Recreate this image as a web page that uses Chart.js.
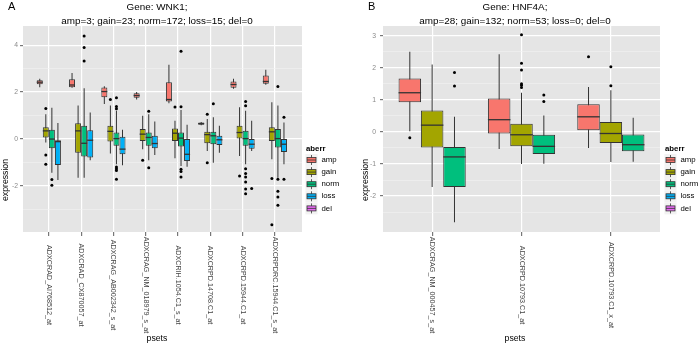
<!DOCTYPE html>
<html>
<head>
<meta charset="utf-8">
<script src="https://cdn.jsdelivr.net/npm/chart.js@4.4.1/dist/chart.umd.min.js"></script>
<style>
  html, body { margin: 0; padding: 0; background: #fff; }
  #wrap { position: relative; width: 700px; height: 347px; }
  canvas { position: absolute; top: 0; }
</style>
</head>
<body>
<div id="wrap">
  <canvas id="chartA" width="350" height="347" style="left:0"></canvas>
  <canvas id="chartB" width="350" height="347" style="left:350px"></canvas>
</div>
<script>
// aberration groups, ggplot default hues
const groups = ['amp', 'gain', 'norm', 'loss', 'del'];
const groupColors = ['#F8766D', '#A3A500', '#00BF7D', '#00B0F6', '#E76BF3'];

// Panel A: WNK1. Each row = one probe set: [lower whisker, q1, median, q3, upper whisker]
const probesA = ['ADXCRAD_AI768512_at', 'ADXCRAD_CX870057_at', 'ADXCRAG_AB002342_s_at', 'ADXCRAG_NM_018979_s_at',
                 'ADXCRIH.1054.C1_s_at', 'ADXCRPD.14708.C1_at', 'ADXCRPD.15944.C1_at', 'ADXCRPDRC.15944.C1_s_at'];
const ampA = [[2.2, 2.33, 2.42, 2.5, 2.57], [2.18, 2.2, 2.3, 2.55, 2.81], [1.49, 1.78, 2.02, 2.19, 2.25], [1.68, 1.75, 1.85, 1.95, 2.0],
              [1.52, 1.59, 1.68, 2.42, 3.17], [0.58, 0.6, 0.65, 0.7, 0.72], [2.14, 2.18, 2.32, 2.45, 2.57], [2.31, 2.35, 2.45, 2.71, 2.95]];
const gainA = [[-0.16, 0.06, 0.34, 0.49, 1.05], [-1.66, -0.59, 0.34, 0.67, 1.42], [-0.63, -0.11, 0.32, 0.56, 1.42], [-0.44, -0.09, 0.2, 0.42, 0.99],
               [-0.83, -0.09, 0.24, 0.44, 0.77], [-0.52, -0.19, 0.18, 0.3, 0.85], [-0.73, 0.01, 0.27, 0.56, 1.35], [-0.87, -0.09, 0.3, 0.49, 1.56]];
const normA = [[-1.45, -0.4, -0.01, 0.39, 1.33], [-1.66, -0.76, -0.19, 0.56, 2.16], [-1.09, -0.3, 0.01, 0.27, 1.2], [-0.92, -0.3, 0.06, 0.27, 1.05],
               [-1.16, -0.33, 0.03, 0.27, 1.23], [-1.02, -0.23, 0.13, 0.3, 0.92], [-1.09, -0.3, 0.01, 0.34, 1.2], [-1.66, -0.37, 0.01, 0.42, 1.42]];
const lossA = [[-1.76, -1.12, -0.12, -0.06, 0.68], [-0.92, -0.8, -0.06, 0.37, 1.12], [-1.13, -0.66, -0.44, 0.09, 0.39], [-0.69, -0.4, -0.2, 0.13, 0.74],
               [-1.19, -0.95, -0.66, -0.01, 0.6], [-0.59, -0.26, -0.04, 0.13, 0.56], [-0.52, -0.42, -0.23, -0.01, 0.77], [-1.09, -0.56, -0.23, -0.01, 0.7]];
// outliers per probe set
const gainOutA = [[1.3, -0.69, -1.09], [], [1.68], [-0.92], [1.36], [1.05, -1.02], [-1.59], [-1.69, -3.67]];
const normOutA = [[-1.74, -1.98], [4.39, 3.9, 3.33], [1.75, 1.38, 1.28, -1.2, -1.28, -1.35, -1.73], [1.18, -1.23],
                  [3.74, 1.37, -1.3, -1.4, -1.63], [1.5], [1.59, 1.41, -1.28, -1.48, -1.63, -1.84, -2.14, -2.35], [2.24, -1.73, -2.24, -2.49, -2.84]];
const lossOutA = [[], [], [], [], [], [], [-2.12], [0.92, -1.73]];
const yMajorA = [-2, 0, 2, 4];
const yMinorA = [-3, -1, 1, 3];

// Panel B: HNF4A
const probesB = ['ADXCRAG_NM_000457_s_at', 'ADXCRPD.10793.C1_at', 'ADXCRPD.10793.C1_x_at'];
const ampB = [[0.0, 0.92, 1.22, 1.66, 2.5], [-0.53, -0.05, 0.38, 1.04, 2.42], [-0.5, 0.05, 0.47, 0.86, 1.4]];
const gainB = [[-1.72, -0.49, 0.21, 0.67, 2.1], [-1.0, -0.45, -0.09, 0.25, 1.22], [-0.94, -0.35, -0.05, 0.31, 1.3]];
const normB = [[-2.82, -1.72, -0.78, -0.47, 0.47], [-0.99, -0.69, -0.45, -0.09, 0.51], [-0.93, -0.6, -0.4, -0.08, 0.44]];
const ampOutB = [[-0.18], [], [2.34]];
const gainOutB = [[], [3.03, 2.14, 1.93, 1.5, 1.45, 1.38], [2.03, 1.44]];
const normOutB = [[1.85, 1.43], [1.15, 0.95], []];
const yMajorB = [-2, -1, 0, 1, 2, 3];
const yMinorB = [-2.5, -1.5, -0.5, 0.5, 1.5, 2.5];

const FONT = '"Liberation Sans", Arial, sans-serif';
const EDGE = '#333333';

function buildDatasets(stats, outs, offsets, boxWidth) {
  const sets = [];
  stats.forEach((rows, g) => {
    if (!rows) return;
    const pts = rows.map((r, i) => ({ x: i + offsets[g], r }));
    // whiskers
    sets.push({ type: 'bar', order: 3, grouped: false, barThickness: 1, inflateAmount: 0,
      data: pts.map(p => ({ x: p.x, y: [p.r[0], p.r[4]] })), backgroundColor: EDGE, borderWidth: 0 });
    // boxes
    sets.push({ type: 'bar', order: 2, grouped: false, barThickness: boxWidth, inflateAmount: 0,
      data: pts.map(p => ({ x: p.x, y: [p.r[1], p.r[3]] })), backgroundColor: groupColors[g],
      borderColor: EDGE, borderWidth: 1, borderSkipped: false });
    // medians
    sets.push({ type: 'scatter', order: 1, data: pts.map(p => ({ x: p.x, y: p.r[2] })),
      pointStyle: 'line', pointRadius: boxWidth / 2, pointBorderColor: EDGE, pointBorderWidth: 1.3 });
    const o = [];
    (outs[g] || []).forEach((vals, i) => vals.forEach(v => o.push({ x: i + offsets[g], y: v })));
    if (o.length) {
      sets.push({ type: 'scatter', order: 0, data: o, pointRadius: 1.5,
        pointBackgroundColor: '#000', pointBorderWidth: 0 });
    }
  });
  return sets;
}

function panelPlugin(p) {
  return {
    id: 'panel' + p.letter,
    beforeDraw(chart) {
      const { ctx, chartArea: a } = chart;
      ctx.save();
      ctx.fillStyle = '#E5E5E5';
      ctx.fillRect(a.left, a.top, a.right - a.left, a.bottom - a.top);
      ctx.restore();
    },
    afterDraw(chart) {
      const ctx = chart.ctx;
      const xs = chart.scales.x;
      ctx.save();
      ctx.fillStyle = '#000';
      ctx.textBaseline = 'middle';
      // panel letter
      ctx.font = '11px ' + FONT;
      ctx.textAlign = 'left';
      ctx.fillText(p.letter, p.letterX, 7);
      // title
      ctx.font = '9.9px ' + FONT;
      ctx.textAlign = 'center';
      ctx.fillText(p.title[0], p.titleX, 7);
      ctx.fillText(p.title[1], p.titleX, 21);
      // axis titles
      ctx.font = '8.7px ' + FONT;
      ctx.fillText('psets', p.titleX, 339);
      ctx.save();
      ctx.translate(p.yTitleX, 180);
      ctx.rotate(-Math.PI / 2);
      ctx.fillText('expression', 0, 0);
      ctx.restore();
      // probe set labels, reading downward
      ctx.font = '7.2px ' + FONT;
      ctx.fillStyle = '#444';
      p.probes.forEach((name, i) => {
        ctx.save();
        ctx.translate(xs.getPixelForValue(i), 285);
        ctx.rotate(Math.PI / 2);
        ctx.fillText(name, 0, 0);
        ctx.restore();
      });
      // legend
      ctx.fillStyle = '#000';
      ctx.textAlign = 'left';
      ctx.font = 'bold 7.8px ' + FONT;
      ctx.fillText('aberr', p.legX, 149);
      ctx.font = '7.8px ' + FONT;
      groups.forEach((gname, k) => {
        const cy = 160 + k * 12.1, cx = p.legX + 5.5;
        ctx.fillStyle = '#F2F2F2';
        ctx.fillRect(cx - 6, cy - 6, 12, 12);
        ctx.strokeStyle = EDGE;
        ctx.lineWidth = 0.8;
        ctx.beginPath();
        ctx.moveTo(cx, cy - 5);
        ctx.lineTo(cx, cy + 5);
        ctx.stroke();
        ctx.fillStyle = groupColors[k];
        ctx.fillRect(cx - 4.5, cy - 2.5, 9, 5);
        ctx.strokeRect(cx - 4.5, cy - 2.5, 9, 5);
        ctx.beginPath();
        ctx.moveTo(cx - 4.5, cy);
        ctx.lineTo(cx + 4.5, cy);
        ctx.stroke();
        ctx.fillStyle = '#000';
        ctx.fillText(gname, p.legX + 15.5, cy);
      });
      ctx.restore();
    }
  };
}

function makeChart(id, p) {
  const isMajor = v => p.yMajor.includes(v);
  return new Chart(document.getElementById(id), {
    type: 'bar',
    data: { datasets: buildDatasets(p.stats, p.outs, p.offsets, p.boxWidth) },
    options: {
      responsive: false,
      animation: false,
      events: [],
      layout: { padding: { left: 0, top: 26, right: p.right, bottom: 0 } },
      plugins: { legend: { display: false }, tooltip: { enabled: false } },
      scales: {
        x: {
          type: 'linear', min: p.xMin, max: p.xMax, offset: false,
          afterBuildTicks: s => { s.ticks = p.probes.map((_, i) => ({ value: i })); },
          afterFit: s => { s.height = 115; },
          ticks: { display: false, autoSkip: false },
          grid: { offset: false, color: '#fff', lineWidth: 1.2, tickLength: 4, tickColor: '#777' },
          border: { display: false }
        },
        y: {
          type: 'linear', min: p.yMin, max: p.yMax,
          afterBuildTicks: s => {
            s.ticks = p.yMajor.concat(p.yMinor).sort((a, b) => a - b).map(v => ({ value: v }));
          },
          afterFit: s => { s.width = p.yWidth; },
          ticks: {
            autoSkip: false, color: '#8a8a8a', padding: p.yPad,
            font: { size: 6.8, family: FONT },
            callback: v => isMajor(v) ? String(v) : ''
          },
          grid: {
            color: c => isMajor(c.tick.value) ? '#fff' : '#F2F2F2',
            lineWidth: c => isMajor(c.tick.value) ? 1.2 : 0.6,
            tickColor: c => isMajor(c.tick.value) ? '#777' : 'rgba(0,0,0,0)',
            tickLength: 3
          },
          border: { display: false }
        }
      }
    },
    plugins: [panelPlugin(p)]
  });
}

const offA = [-0.28125, -0.09375, 0.09375, 0.28125];
makeChart('chartA', {
  letter: 'A', letterX: 8, titleX: 157, yTitleX: 6, legX: 306,
  title: ['Gene: WNK1;', 'amp=3; gain=23; norm=172; loss=15; del=0'],
  probes: probesA,
  stats: [ampA, gainA, normA, lossA, null],
  outs: [null, gainOutA, normOutA, lossOutA, null],
  offsets: offA, boxWidth: 6,
  xMin: -0.8, xMax: 7.84, yMin: -3.98, yMax: 4.82,
  yMajor: yMajorA, yMinor: yMinorA,
  yWidth: 23, yPad: 2, right: 48
});

const offB = [-0.25, 0, 0.25];
makeChart('chartB', {
  letter: 'B', letterX: 18, titleX: 165, yTitleX: 15.5, legX: 315,
  title: ['Gene: HNF4A;', 'amp=28; gain=132; norm=53; loss=0; del=0'],
  probes: probesB,
  stats: [ampB, gainB, normB, null, null],
  outs: [ampOutB, gainOutB, normOutB, null, null],
  offsets: offB, boxWidth: 22.5,
  xMin: -0.55, xMax: 2.55, yMin: -3.12, yMax: 3.3,
  yMajor: yMajorB, yMinor: yMinorB,
  yWidth: 33, yPad: 4, right: 40
});
</script>
</body>
</html>
